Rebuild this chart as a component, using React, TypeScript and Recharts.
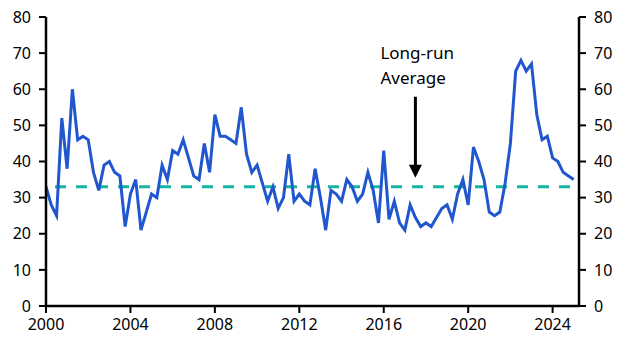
import React from 'react';
import { LineChart, Line, XAxis, YAxis, ReferenceLine, ReferenceDot } from 'recharts';

// quarterly readings, Q1 2000 .. Q1 2025
const startYear = 2000;
const values = [
  33, 28, 25, 52,
  38, 60, 46, 47,
  46, 37, 32, 39,
  40, 37, 36, 22,
  31, 35, 21, 26,
  31, 30, 39, 35,
  43, 42, 46, 41,
  36, 35, 45, 37,
  53, 47, 47, 46,
  45, 55, 42, 37,
  39, 34, 29, 33,
  27, 30, 42, 29,
  31, 29, 28, 38,
  30, 21, 32, 31,
  29, 35, 33, 29,
  31, 37, 32, 23,
  43, 24, 29, 23,
  21, 28, 24.5, 22,
  23, 22, 24.5, 27,
  28, 24, 31, 35,
  28, 44, 40, 35,
  26, 25, 26, 34,
  45, 65, 68, 65,
  67, 53, 46, 47,
  41, 40, 37, 36,
  35,
];
const xTicks = [2000, 2004, 2008, 2012, 2016, 2020, 2024];
const yTicks = [0, 10, 20, 30, 40, 50, 60, 70, 80];
const longRunAverage = 33;
const annotationLines = ['Long-run', 'Average'];
const arrowAt = { x: 2017.5, y: 35.5 };

const data = values.map((v, i) => ({ t: startYear + i / 4, v }));

const FONT = 'Noto Sans, sans-serif';
const tickStyle = { fontSize: 16, fill: '#000', fontFamily: FONT };

const ArrowNote = (props: any) => {
  const { cx, cy } = props;
  return (
    <g>
      <line x1={cx} y1={cy - 81} x2={cx} y2={cy - 10} stroke="#000" strokeWidth={3} />
      <polygon points={`${cx - 6.5},${cy - 13} ${cx + 6.5},${cy - 13} ${cx},${cy}`} fill="#000" />
      {annotationLines.map((s, i) => (
        <text key={i} x={cx - 35} y={cy - 119 + i * 25} fontSize={17} fontFamily={FONT} fill="#000">
          {s}
        </text>
      ))}
    </g>
  );
};

const App: React.FC = () => {
  return (
    <div style={{ position: 'absolute', left: 0, top: 0, background: '#fff' }}>
      <LineChart width={630} height={356} data={data} margin={{ top: 17, right: 0, left: 0, bottom: 20 }}>
        <XAxis
          dataKey="t"
          type="number"
          domain={[2000, 2025.25]}
          ticks={xTicks}
          allowDataOverflow
          tick={tickStyle}
          tickLine={{ stroke: '#000', strokeWidth: 2 }}
          axisLine={{ stroke: '#000', strokeWidth: 2.5 }}
          tickSize={7}
          tickMargin={6}
          height={30}
        />
        <YAxis
          yAxisId="left"
          type="number"
          domain={[0, 80]}
          ticks={yTicks}
          allowDataOverflow
          tick={tickStyle}
          tickLine={{ stroke: '#000', strokeWidth: 2 }}
          axisLine={{ stroke: '#000', strokeWidth: 2.5 }}
          tickSize={7}
          tickMargin={8}
          width={46}
        />
        <YAxis
          yAxisId="right"
          orientation="right"
          type="number"
          domain={[0, 80]}
          ticks={yTicks}
          allowDataOverflow
          tick={tickStyle}
          tickLine={{ stroke: '#000', strokeWidth: 2 }}
          axisLine={{ stroke: '#000', strokeWidth: 2.5 }}
          tickSize={7}
          tickMargin={8}
          width={51}
        />
        <ReferenceLine
          yAxisId="left"
          y={longRunAverage}
          stroke="#14b5a5"
          strokeWidth={3}
          strokeDasharray="11 10"
          strokeDashoffset={-9}
        />
        {/* invisible copy so the right-hand axis gets a scale */}
        <Line
          yAxisId="right"
          dataKey="v"
          stroke="none"
          dot={false}
          activeDot={false}
          legendType="none"
          isAnimationActive={false}
        />
        <Line
          yAxisId="left"
          dataKey="v"
          stroke="#2057cf"
          strokeWidth={3}
          dot={false}
          isAnimationActive={false}
        />
        <ReferenceDot yAxisId="left" x={arrowAt.x} y={arrowAt.y} shape={ArrowNote} />
      </LineChart>
    </div>
  );
};

export default App;
